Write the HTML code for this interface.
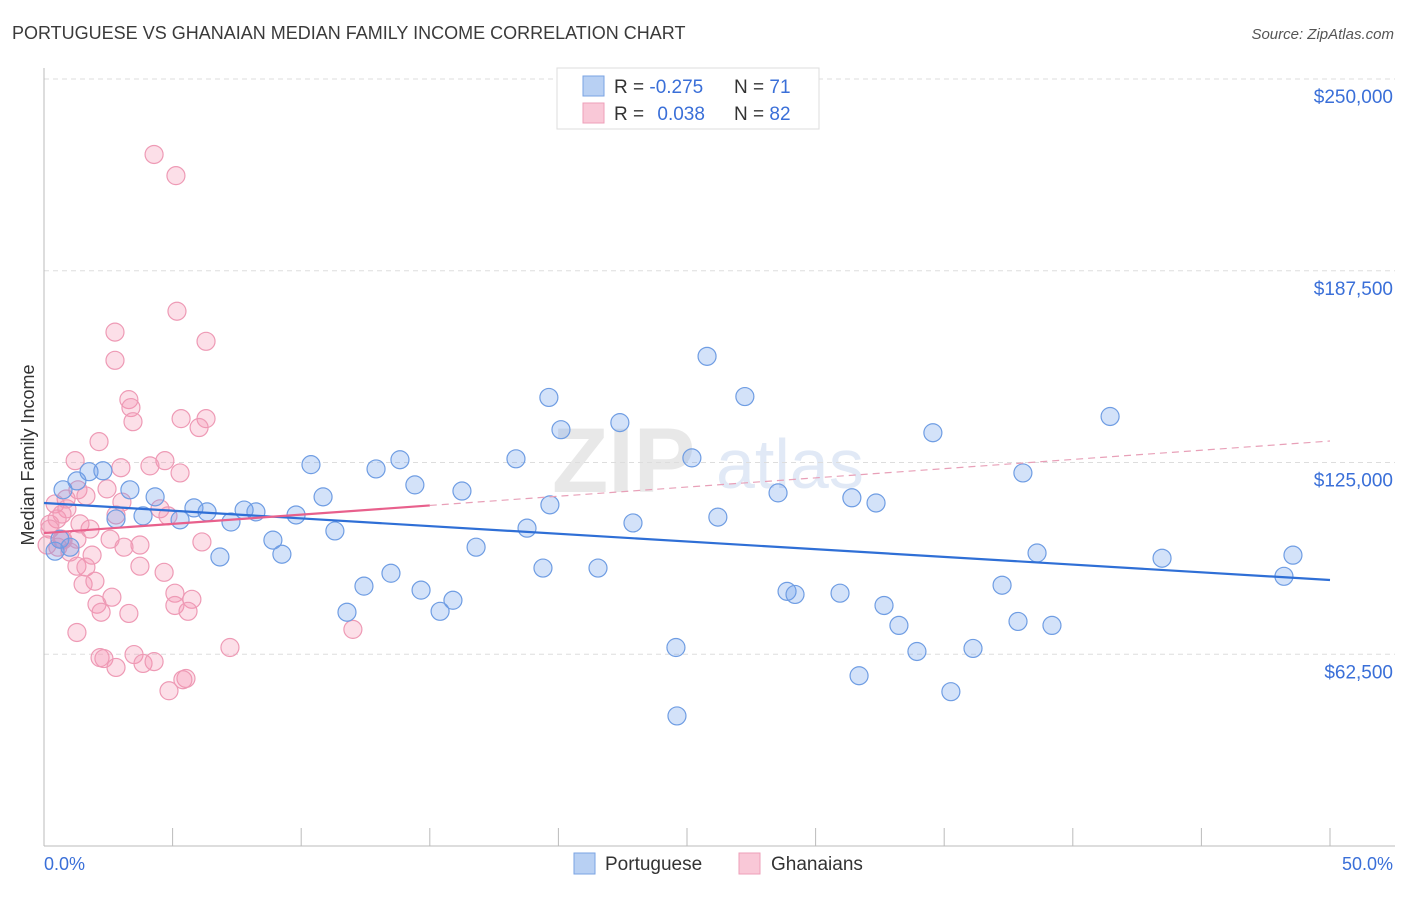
<!DOCTYPE html>
<html><head><meta charset="utf-8"><style>
body{margin:0;background:#fff;font-family:"Liberation Sans",sans-serif;}
svg text{font-family:"Liberation Sans",sans-serif;}
</style></head><body>
<svg id="chart" width="1406" height="892" xmlns="http://www.w3.org/2000/svg">
<text x="12" y="39" font-size="18" fill="#3a3a3a">PORTUGUESE VS GHANAIAN MEDIAN FAMILY INCOME CORRELATION CHART</text>
<text x="1394" y="39" font-size="15" fill="#555" text-anchor="end" font-style="italic">Source: ZipAtlas.com</text>
<g opacity="0.22">
<text x="552" y="492" font-size="92" fill="#999" font-family="Liberation Serif" font-weight="bold">ZIP</text>
<text x="716" y="488" font-size="70" fill="#7aa0d8">atlas</text>
</g>
<g id="grid"></g>
<g id="axes"></g>
<g id="pink"></g>
<g id="blue"></g>
<g id="trends"></g>
<text transform="translate(34,455) rotate(-90)" font-size="18" fill="#333" text-anchor="middle">Median Family Income</text>
<text x="44" y="870" font-size="18" fill="#3a6fd8">0.0%</text>
<text x="1393" y="870" font-size="18" fill="#3a6fd8" text-anchor="end">50.0%</text>
<g>
<rect x="557" y="68" width="262" height="61" fill="#fff" stroke="#ddd"/>
<rect x="583" y="76" width="21" height="20" fill="#b8d0f3" stroke="#7aa3e3"/>
<rect x="583" y="103" width="21" height="20" fill="#f9c8d7" stroke="#ee9fb8"/>
<text x="614" y="93" font-size="19" fill="#333">R = <tspan fill="#3a6fd8">-0.275</tspan></text>
<text x="734" y="93" font-size="19" fill="#333">N = <tspan fill="#3a6fd8">71</tspan></text>
<text x="614" y="120" font-size="19" fill="#333">R = <tspan fill="#3a6fd8" dx="8">0.038</tspan></text>
<text x="734" y="120" font-size="19" fill="#333">N = <tspan fill="#3a6fd8">82</tspan></text>
</g>
<g>
<rect x="574" y="853" width="21" height="21" fill="#b8d0f3" stroke="#7aa3e3"/>
<text x="605" y="870" font-size="19" fill="#333">Portuguese</text>
<rect x="739" y="853" width="21" height="21" fill="#f9c8d7" stroke="#ee9fb8"/>
<text x="771" y="870" font-size="19" fill="#333">Ghanaians</text>
</g>
</svg>
<script>
const yTicks=[62500,125000,187500,250000];
const yTickLabels=["$62,500","$125,000","$187,500","$250,000"];
const xTicks=[0,5,10,15,20,25,30,35,40,45,50];
// income in $k
const blueX=[25.78,19.63,27.25,20.10,22.39,41.45,34.56,25.19,18.35,13.84,10.38,12.91,38.06,14.42,16.25,10.85,4.32,28.54,31.41,32.35,19.67,5.83,6.34,5.29,3.85,7.78,8.24,9.80,22.90,26.20,7.27,18.78,11.31,8.90,16.80,9.25,6.84,38.61,43.47,48.56,48.21,19.40,21.54,13.49,12.44,14.66,37.25,28.89,29.20,30.95,32.66,15.90,11.78,15.40,33.24,37.87,39.19,33.94,36.12,24.57,31.69,35.26,24.61,0.74,1.28,1.75,2.29,3.34,2.80,0.62,0.43,1.01];
const blueY=[159.6,146.2,146.5,135.7,138.0,140.0,134.7,126.5,126.2,125.9,124.3,122.9,121.6,117.7,115.7,113.8,113.8,115.1,113.5,111.8,111.2,110.2,108.9,106.3,107.6,109.5,108.9,107.9,105.3,107.2,105.6,103.6,102.7,99.7,97.4,95.1,94.2,95.5,93.8,94.8,87.9,90.6,90.6,88.9,84.7,83.4,85.0,83.0,82.0,82.4,78.4,80.1,76.2,76.5,71.9,73.2,71.9,63.4,64.4,64.7,55.5,50.3,42.4,116.1,119.0,122.0,122.3,116.1,106.6,100.0,96.1,97.4];
const pinkX=[4.28,5.13,5.17,6.30,2.76,2.76,3.30,3.38,3.46,5.33,6.30,6.03,2.14,1.21,4.70,2.99,4.12,5.29,2.45,1.32,0.86,1.63,0.43,0.89,2.80,4.51,4.82,3.03,0.51,0.23,1.79,2.57,0.74,1.28,0.12,0.54,3.73,3.11,1.87,6.14,1.28,1.63,3.73,4.67,1.52,1.98,5.09,2.64,2.06,5.75,2.22,3.30,5.09,5.60,7.23,1.28,12.01,3.50,2.18,2.33,2.80,3.85,4.28,5.52,5.40,4.86,0.70,1.01,0.23,1.40,0.70];
const pinkY=[225.4,218.5,174.3,164.5,167.5,158.3,145.5,142.9,138.3,139.3,139.3,136.4,131.8,125.6,125.6,123.3,123.9,121.6,116.4,116.1,113.1,114.1,111.5,109.9,107.9,109.9,107.6,112.1,106.6,104.9,103.3,100.0,99.7,100.0,98.1,97.4,98.1,97.4,94.8,99.1,91.2,90.9,91.2,89.2,85.3,86.3,82.4,81.1,78.8,80.4,76.2,75.8,78.4,76.5,64.7,69.6,70.6,62.4,61.4,61.1,58.2,59.5,60.1,54.6,54.2,50.6,100.0,95.8,103.3,105.0,108.2];
const blueTrend=[111.8,86.7];
const pinkTrend=[102.0,132.0];
const NS="http://www.w3.org/2000/svg";
const xs=p=>44+p/50*1286;
const ys=k=>846-k/250*767;
function mk(tag,attrs,parent){const e=document.createElementNS(NS,tag);for(const k in attrs)e.setAttribute(k,attrs[k]);parent.appendChild(e);return e;}
const grid=document.getElementById('grid'),axes=document.getElementById('axes');
yTicks.forEach((v,i)=>{
  const g=mk('line',{x1:44,x2:1395,y1:ys(v/1000),y2:ys(v/1000),stroke:'#ddd','stroke-dasharray':'5,4'},grid);
  
  
  const t=mk('text',{x:1393,y:ys(v/1000)+24,'font-size':19,fill:'#3a6fd8','text-anchor':'end'},grid);
  t.textContent=yTickLabels[i];
  
  
});
const al=mk('line',{x1:44,x2:44,y1:68,y2:846,stroke:'#bbb'},axes);


const bl=mk('line',{x1:44,x2:1395,y1:846,y2:846,stroke:'#bbb'},axes);


xTicks.forEach(p=>{
  const t=mk('line',{x1:xs(p),x2:xs(p),y1:828,y2:846,stroke:'#bbb'},axes);
  
  
});
function dots(X,Y,g,fill,stroke,name){
  X.forEach((x,i)=>{
    const c=mk('circle',{cx:xs(x),cy:ys(Y[i]),r:9,fill:fill,stroke:stroke,'stroke-width':1.2},g);
    
    
  });
}
dots(pinkX,pinkY,document.getElementById('pink'),'rgba(244,150,180,0.3)','#ee9ab5','ghanaian-point');
dots(blueX,blueY,document.getElementById('blue'),'rgba(110,160,235,0.3)','#6f9de3','portuguese-point');
const tr=document.getElementById('trends');
const b=mk('line',{x1:xs(0),y1:ys(blueTrend[0]),x2:xs(50),y2:ys(blueTrend[1]),stroke:'#2f6fd6','stroke-width':2.2},tr);


const pAt=p=>pinkTrend[0]+(pinkTrend[1]-pinkTrend[0])*p/50;
const p1=mk('line',{x1:xs(0),y1:ys(pAt(0)),x2:xs(15),y2:ys(pAt(15)),stroke:'#e8608c','stroke-width':2.2},tr);


const p2=mk('line',{x1:xs(15),y1:ys(pAt(15)),x2:xs(50),y2:ys(pAt(50)),stroke:'#e8a0b8','stroke-width':1.2,'stroke-dasharray':'7,5'},tr);


</script>
</body></html>
